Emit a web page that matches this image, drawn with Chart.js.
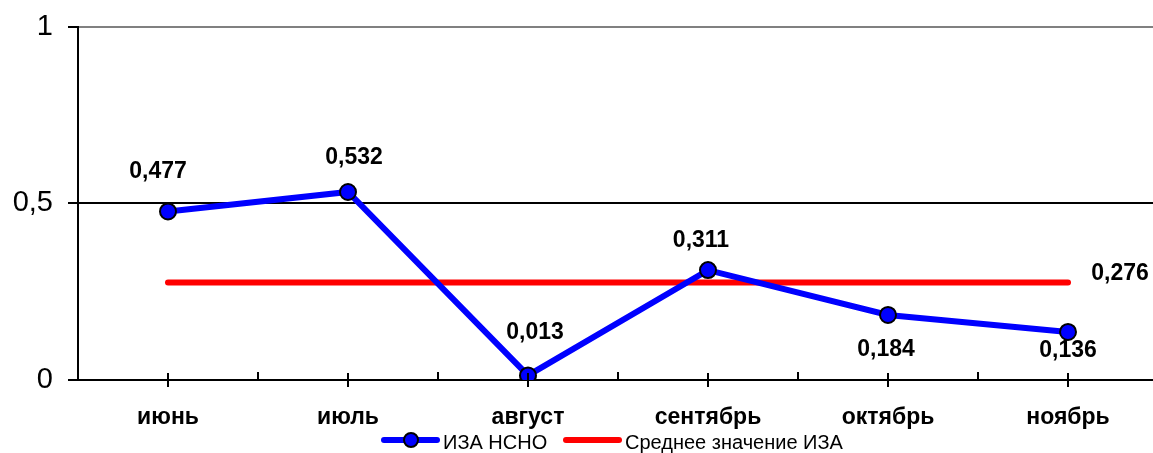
<!DOCTYPE html>
<html lang="ru">
<head>
    <meta charset="UTF-8">
    <title>ИЗА НСНО</title>
    <style>
        html, body { margin: 0; padding: 0; background: #fff; overflow: hidden; }
        body { font-family: "Liberation Sans", Arial, sans-serif; }
        #wrap { position: relative; width: 1168px; height: 453px; }
        canvas { display: block; }
        .legend { position: absolute; top: 430px; left: 0; height: 24px; font-size: 20px; color: #000; }
        .item { position: absolute; top: 0; white-space: nowrap; line-height: 24px; }
        .sw { position: absolute; top: 7px; width: 59px; height: 6px; border-radius: 3px; }
        .dot { position: absolute; top: 2px; left: 22px; width: 12px; height: 12px; border: 2px solid #000; border-radius: 50%; background: #0000ff; }
        .txt { position: absolute; top: 0; left: 62px; }
    </style>
    <script src="https://cdn.jsdelivr.net/npm/chart.js@4.4.2/dist/chart.umd.min.js"></script>
</head>
<body>
<div id="wrap">
    <canvas id="chart" width="1168" height="453"></canvas>
    <div class="legend">
        <div class="item" style="left:381px"><span class="sw" style="background:#0000ff"></span><span class="dot"></span><span class="txt">ИЗА НСНО</span></div>
        <div class="item" style="left:563px"><span class="sw" style="background:#ff0000"></span><span class="txt">Среднее значение ИЗА</span></div>
    </div>
</div>
<script>
    // данные
    const months = ['июнь', 'июль', 'август', 'сентябрь', 'октябрь', 'ноябрь'];
    const izaValues = [0.477, 0.532, 0.013, 0.311, 0.184, 0.136];
    const izaAverage = [0.276, 0.276, 0.276, 0.276, 0.276, 0.276];
    const yTicks = [0, 0.5, 1];

    // смещения подписей (px) относительно точки
    const izaLabelShift = [[-10, -40], [6, -34], [7, -43], [-7, -29], [-2, 35], [0, 19]];
    const avgLabelShift = [52, -9];

    const FONT = '"Liberation Sans", Arial, sans-serif';
    const fmt = v => String(v).replace('.', ',');

    // подписи значений
    const valueLabels = {
        id: 'valueLabels',
        afterDatasetsDraw(chart) {
            const ctx = chart.ctx;
            ctx.save();
            ctx.font = 'bold 23px ' + FONT;
            ctx.fillStyle = '#000';
            ctx.textAlign = 'center';
            ctx.textBaseline = 'middle';
            const m0 = chart.getDatasetMeta(0);
            m0.data.forEach((p, i) => {
                ctx.fillText(fmt(izaValues[i]), p.x + izaLabelShift[i][0], p.y + izaLabelShift[i][1]);
            });
            const m1 = chart.getDatasetMeta(1);
            const last = m1.data[m1.data.length - 1];
            ctx.fillText(fmt(izaAverage[izaAverage.length - 1]), last.x + avgLabelShift[0], last.y + avgLabelShift[1]);
            ctx.restore();
        }
    };

    // засечки оси X
    const xTickMarks = {
        id: 'xTickMarks',
        afterDraw(chart) {
            const ctx = chart.ctx;
            const xs = chart.scales.x;
            const y0 = chart.chartArea.bottom;
            ctx.save();
            ctx.strokeStyle = '#000';
            ctx.lineWidth = 2;
            ctx.beginPath();
            for (let i = 0; i < months.length; i++) {
                const x = Math.round(xs.getPixelForTick(i));
                ctx.moveTo(x, y0 - 7);
                ctx.lineTo(x, y0 + 7);
                if (i < months.length - 1) {
                    const xb = Math.round((xs.getPixelForTick(i) + xs.getPixelForTick(i + 1)) / 2);
                    ctx.moveTo(xb, y0 - 8);
                    ctx.lineTo(xb, y0);
                }
            }
            ctx.stroke();
            ctx.restore();
        }
    };

    new Chart(document.getElementById('chart'), {
        type: 'line',
        data: {
            labels: months,
            datasets: [
                {
                    label: 'ИЗА НСНО',
                    data: izaValues,
                    borderColor: '#0000ff',
                    borderWidth: 6,
                    pointRadius: 8,
                    pointBackgroundColor: '#0000ff',
                    pointBorderColor: '#000',
                    pointBorderWidth: 2,
                    tension: 0,
                    order: 1
                },
                {
                    label: 'Среднее значение ИЗА',
                    data: izaAverage,
                    borderColor: '#ff0000',
                    borderWidth: 6,
                    borderCapStyle: 'round',
                    pointRadius: 0,
                    tension: 0,
                    order: 2
                }
            ]
        },
        options: {
            responsive: false,
            animation: false,
            layout: { padding: { top: 25, right: 4, left: 0, bottom: 0 } },
            plugins: {
                legend: { display: false },
                tooltip: { enabled: false }
            },
            scales: {
                x: {
                    offset: true,
                    grid: { display: false, drawTicks: false },
                    border: { display: true, color: '#000', width: 2 },
                    ticks: {
                        color: '#000',
                        padding: 24,
                        font: { family: FONT, size: 23, weight: 'bold' }
                    },
                    afterFit(s) { s.height = 73; }
                },
                y: {
                    min: 0,
                    max: 1,
                    afterBuildTicks(s) { s.ticks = yTicks.map(v => ({ value: v })); },
                    grid: {
                        color: c => c.tick && c.tick.value === 1 ? '#808080' : (c.tick && c.tick.value === 0 ? 'rgba(0,0,0,0)' : '#000'),
                        lineWidth: 2,
                        tickColor: '#000',
                        tickLength: 10,
                        tickWidth: 2
                    },
                    border: { display: true, color: '#000', width: 2 },
                    ticks: {
                        color: '#000',
                        padding: 15,
                        font: { family: FONT, size: 29, lineHeight: 0.8 },
                        callback: v => fmt(v)
                    },
                    afterFit(s) { s.width = 78; }
                }
            }
        },
        plugins: [valueLabels, xTickMarks]
    });
</script>
</body>
</html>
